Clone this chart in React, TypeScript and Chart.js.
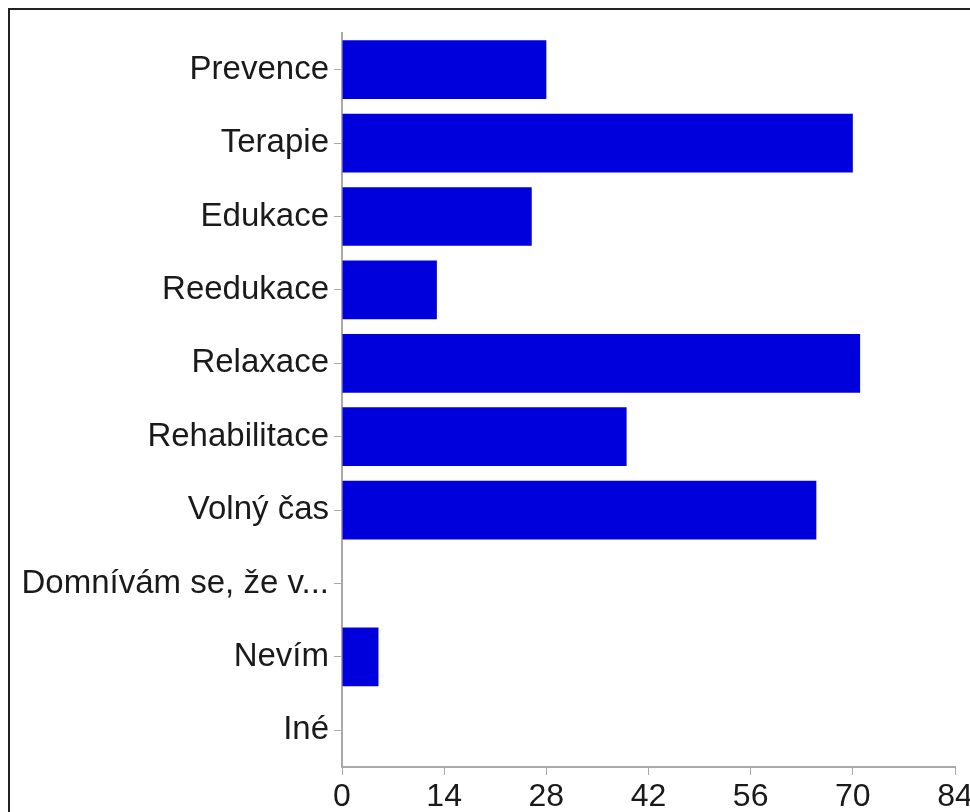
import React, { useEffect, useRef } from "react";
import { Chart, registerables } from "chart.js";

Chart.register(...registerables);

const categories = [
  "Prevence",
  "Terapie",
  "Edukace",
  "Reedukace",
  "Relaxace",
  "Rehabilitace",
  "Volný čas",
  "Domnívám se, že v...",
  "Nevím",
  "Iné",
];
const values = [28, 70, 26, 13, 71, 39, 65, 0, 5, 0];
const xMin = 0;
const xMax = 84;
const xStep = 14;

const FONT = "'Liberation Sans', Arial, Helvetica, sans-serif";

const framePlugin = {
  id: "frame",
  beforeDraw(chart: any) {
    const ctx = chart.ctx;
    ctx.save();
    ctx.fillStyle = "#ffffff";
    ctx.fillRect(0, 0, chart.width, chart.height);
    ctx.strokeStyle = "#222222";
    ctx.lineWidth = 2;
    ctx.strokeRect(9, 9, chart.width + 20, chart.height + 20);
    ctx.restore();
  },
};

export default function App() {
  const ref = useRef<HTMLCanvasElement>(null);
  useEffect(() => {
    if (!ref.current) return;
    const chart = new Chart(ref.current, {
      type: "bar",
      data: {
        labels: categories,
        datasets: [
          {
            data: values,
            backgroundColor: "#0000dc",
            borderWidth: 0,
            barPercentage: 0.8,
            categoryPercentage: 1,
          },
        ],
      },
      options: {
        indexAxis: "y",
        animation: false,
        responsive: false,
        maintainAspectRatio: false,
        layout: { padding: { top: 33, right: 15, left: 0, bottom: 0 } },
        plugins: { legend: { display: false }, tooltip: { enabled: false } },
        scales: {
          x: {
            min: xMin,
            max: xMax,
            ticks: {
              stepSize: xStep,
              color: "#1a1a1a",
              font: { family: FONT, size: 32 },
              padding: 3,
              maxRotation: 0,
            },
            grid: {
              display: true,
              drawOnChartArea: false,
              drawTicks: true,
              tickLength: 8,
              color: "#aaaaaa",
            },
            border: { display: true, color: "#aaaaaa", width: 2 },
            afterFit: (scale: any) => {
              scale.height = 45;
              scale.paddingRight = 0;
              scale.paddingLeft = 0;
            },
          },
          y: {
            ticks: {
              color: "#1a1a1a",
              font: { family: FONT, size: 33 },
              padding: 5,
              autoSkip: false,
            },
            grid: {
              display: true,
              offset: false,
              drawOnChartArea: false,
              drawTicks: true,
              tickLength: 8,
              color: "#aaaaaa",
            },
            border: { display: true, color: "#aaaaaa", width: 2 },
            afterFit: (scale: any) => {
              scale.width = 342;
              scale.paddingTop = 0;
              scale.paddingBottom = 0;
            },
          },
        },
      },
      plugins: [framePlugin],
    });
    return () => chart.destroy();
  }, []);
  return (
    <div style={{ position: "absolute", left: 0, top: 0, width: 970, height: 812 }}>
      <canvas ref={ref} width={970} height={812} style={{ display: "block" }} />
    </div>
  );
}
